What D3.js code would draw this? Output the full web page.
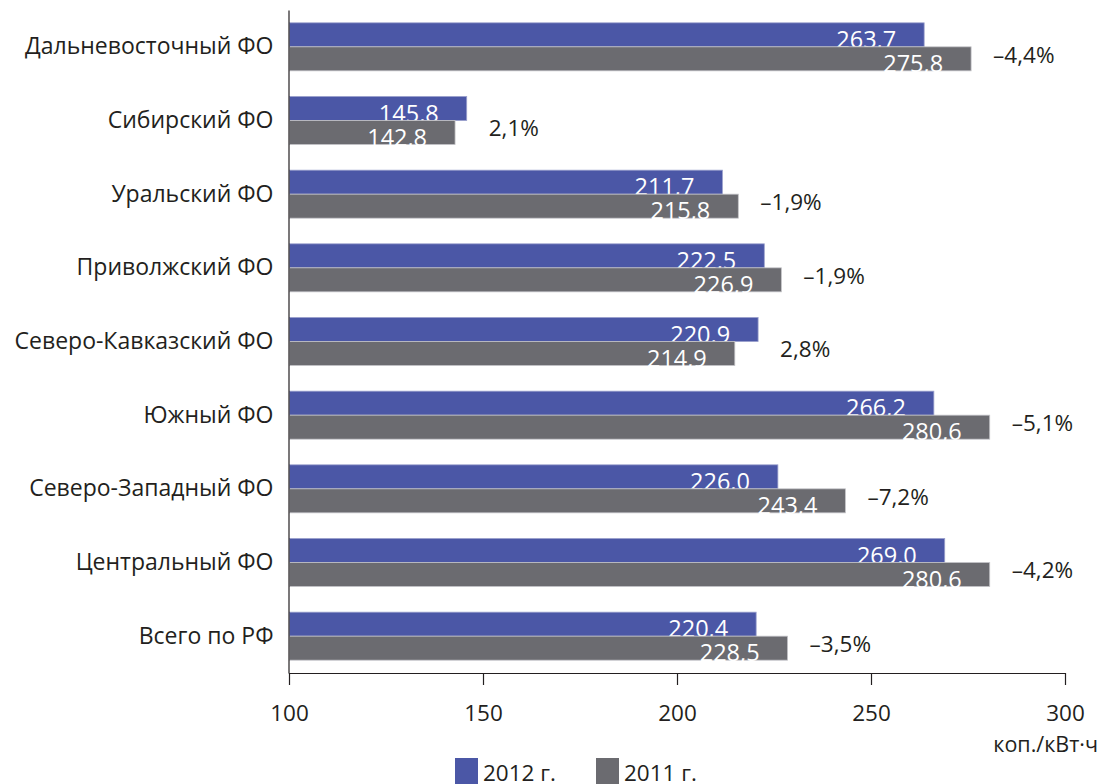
<!DOCTYPE html>
<html lang="ru">
<head>
<meta charset="utf-8">
<script src="https://cdn.jsdelivr.net/npm/d3@7"></script>
<style>
  html, body { margin: 0; padding: 0; background: #fff; }
  svg { display: block; font-family: "Open Sans", "Noto Sans", sans-serif; }
</style>
</head>
<body>
<svg id="chart" width="1103" height="784"></svg>
<script>
// Average tariff by federal district, kop./kWh
const categories = [
  "Дальневосточный ФО",
  "Сибирский ФО",
  "Уральский ФО",
  "Приволжский ФО",
  "Северо-Кавказский ФО",
  "Южный ФО",
  "Северо-Западный ФО",
  "Центральный ФО",
  "Всего по РФ"
];
const values2012 = [263.7, 145.8, 211.7, 222.5, 220.9, 266.2, 226.0, 269.0, 220.4];
const values2011 = [275.8, 142.8, 215.8, 226.9, 214.9, 280.6, 243.4, 280.6, 228.5];
const changeLabels = ["–4,4%", "2,1%", "–1,9%", "–1,9%", "2,8%", "–5,1%", "–7,2%", "–4,2%", "–3,5%"];
const xTicks = [100, 150, 200, 250, 300];
const seriesNames = ["2012 г.", "2011 г."];
const unitLabel = "коп./кВт·ч";

const colors = ["#4b57a6", "#6b6b70"];
const textColor = "#231f20";

const svg = d3.select("#chart");
const ru = d3.formatLocale({ decimal: ",", thousands: " ", grouping: [3], currency: ["", ""] });
const fmt = ru.format(".1f");

const x = d3.scaleLinear().domain([100, 300]).range([289, 1065]);
const y = d3.scaleBand().domain(categories).range([10, 673]);
const barH = 24;

const rows = categories.map((c, i) => ({ c, v12: values2012[i], v11: values2011[i], ch: changeLabels[i] }));

// Bars: 2012 bar and its label first, then the 2011 bar over it
const g = svg.append("g");
rows.forEach(d => {
  const cy = y(d.c) + y.bandwidth() / 2;
  const grp = g.append("g");
  grp.append("rect")
    .attr("x", x(100) + 0.5).attr("y", cy - barH)
    .attr("width", x(d.v12) - x(100) - 0.5).attr("height", barH)
    .attr("fill", colors[0]).attr("stroke", "#9aa0cc").attr("stroke-width", 0.8);
  grp.append("text")
    .attr("x", x(d.v12) - 28).attr("y", cy + 1)
    .attr("text-anchor", "end").attr("fill", "#fff")
    .attr("font-size", 23.5).text(fmt(d.v12));
  grp.append("rect")
    .attr("x", x(100) + 0.5).attr("y", cy)
    .attr("width", x(d.v11) - x(100) - 0.5).attr("height", barH)
    .attr("fill", colors[1]).attr("stroke", "#c4c4c8").attr("stroke-width", 0.8);
  grp.append("text")
    .attr("x", x(d.v11) - 28).attr("y", cy + barH + 1)
    .attr("text-anchor", "end").attr("fill", "#fff")
    .attr("font-size", 23.5).text(fmt(d.v11));
  grp.append("text")
    .attr("x", x(Math.max(d.v12, d.v11)) + 22).attr("y", cy + 8)
    .attr("dy", "0.35em").attr("fill", textColor)
    .attr("font-size", 22.5).text(d.ch);
});

// Category axis
const yAxis = svg.append("g")
  .attr("transform", `translate(${x(100) - 0.5},0)`)
  .call(d3.axisLeft(y).tickSize(0).tickSizeOuter(0).tickPadding(15));
yAxis.select(".domain").attr("stroke", textColor).attr("stroke-width", 1.2);
yAxis.selectAll("text").attr("font-size", 23).attr("fill", textColor)
  .attr("font-family", "'Open Sans', sans-serif");

// Value axis
const xAxis = svg.append("g")
  .attr("transform", "translate(0,673)")
  .call(d3.axisBottom(x).tickValues(xTicks).tickSize(12).tickSizeOuter(0).tickPadding(20).tickFormat(d3.format("d")));
xAxis.select(".domain").attr("stroke", textColor).attr("stroke-width", 1.2);
xAxis.selectAll(".tick line").attr("stroke", textColor).attr("stroke-width", 1.2);
xAxis.selectAll("text").attr("font-size", 22.5).attr("fill", textColor)
  .attr("font-family", "'Open Sans', sans-serif");

svg.append("text")
  .attr("x", 1098).attr("y", 752)
  .attr("text-anchor", "end").attr("fill", textColor)
  .attr("font-size", 21.5).text(unitLabel);

// Legend
const legend = svg.append("g");
const legendX = [455, 596];
seriesNames.forEach((name, i) => {
  legend.append("rect")
    .attr("x", legendX[i]).attr("y", 758)
    .attr("width", 23).attr("height", 26)
    .attr("fill", colors[i]);
  legend.append("text")
    .attr("x", legendX[i] + 28).attr("y", 781)
    .attr("fill", textColor).attr("font-size", 22.5).text(name);
});
</script>
</body>
</html>
